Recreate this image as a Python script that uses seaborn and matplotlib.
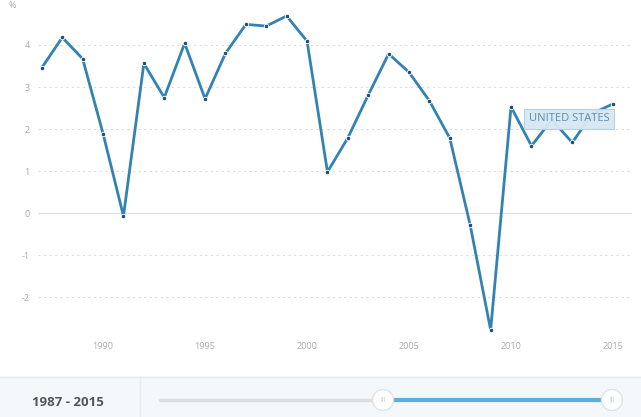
import numpy as np
import pandas as pd
import matplotlib
matplotlib.use("Agg")
import matplotlib.pyplot as plt
import seaborn as sns
from matplotlib.patches import Circle

# GDP growth (annual %), United States
years = list(range(1987, 2016))
growth = [3.46, 4.18, 3.67, 1.89, -0.07, 3.56, 2.75, 4.04, 2.72, 3.80,
          4.49, 4.45, 4.69, 4.09, 0.98, 1.79, 2.81, 3.79, 3.35, 2.67,
          1.78, -0.29, -2.78, 2.53, 1.60, 2.22, 1.68, 2.37, 2.60]
yticks = [-2, -1, 0, 1, 2, 3, 4]
xticks = [1990, 1995, 2000, 2005, 2010, 2015]
country = "UNITED STATES"
period = "1987 - 2015"

df = pd.DataFrame({"year": years, "growth": growth})

sns.set_style("white")
plt.rcParams["font.family"] = ["Open Sans", "DejaVu Sans"]

W, H = 641, 417
fig = plt.figure(figsize=(W / 100, H / 100), dpi=100)
fig.patch.set_facecolor("white")

ax = fig.add_axes([38 / W, 1 - 335 / H, 594 / W, 335 / H])
line_color = "#3383b2"
sns.lineplot(data=df, x="year", y="growth", ax=ax, color=line_color,
             linewidth=2, marker="o", markersize=3.2,
             markerfacecolor="#1f4f6e", markeredgecolor="white",
             markeredgewidth=0.6)

ax.set_xlim(1986.81, 2015.93)
ax.set_ylim(-2.9, 5.07)
ax.set_xticks(xticks)
ax.set_yticks(yticks)
ax.set_xticklabels([str(x) for x in xticks], fontsize=6.5, color="#aaaaaa")
ax.set_yticklabels([str(y) for y in yticks], fontsize=6.5, color="#aaaaaa")
ax.tick_params(axis="x", length=2, width=0.6, color="#cccccc", pad=3)
ax.tick_params(axis="y", length=0, pad=6)
ax.set_xlabel("")
ax.set_ylabel("")
for s in ax.spines.values():
    s.set_visible(False)

for y in yticks:
    if y == 0:
        ax.axhline(y, color="#e3e3e3", linewidth=1, zorder=0)
    else:
        ax.axhline(y, color="#dddddd", linewidth=0.8, linestyle=(0, (2, 3)), zorder=0)

ax.text(2012.84, 2.24, country, fontsize=8, color="#5d8db0", ha="center", va="center",
        bbox=dict(boxstyle="square,pad=0.42", facecolor="#d7e8f3", edgecolor="#b2d0e3",
                  linewidth=0.8, alpha=0.95), zorder=5)

fig.text(12 / W, 1 - 5 / H, "%", fontsize=6.5, color="#aaaaaa", ha="center", va="center")

# bottom range panel
pan = fig.add_axes([0, 0, 1, 41 / H])
pan.set_xlim(0, W)
pan.set_ylim(0, 41)
pan.set_facecolor("#f5f8fa")
for s in pan.spines.values():
    s.set_visible(False)
pan.set_xticks([])
pan.set_yticks([])
pan.axhline(40.5, color="#e6ebef", linewidth=1)
pan.axvline(140, color="#e6ebef", linewidth=1)
pan.text(68, 15, period, fontsize=9.5, fontweight="bold", color="#555555",
         ha="center", va="center")
pan.plot([160, 383], [17, 17], color="#dcdfe2", linewidth=2.5, solid_capstyle="round")
pan.plot([383, 612], [17, 17], color="#5aaee0", linewidth=3)
for hx in (383, 612):
    pan.add_patch(Circle((hx, 17), 10.5, facecolor="white", edgecolor="#dde3e8",
                         linewidth=1, zorder=5))
    pan.text(hx, 17, "III", fontsize=5, color="#cccccc", ha="center", va="center", zorder=6)

fig.savefig("out.png", dpi=100)
